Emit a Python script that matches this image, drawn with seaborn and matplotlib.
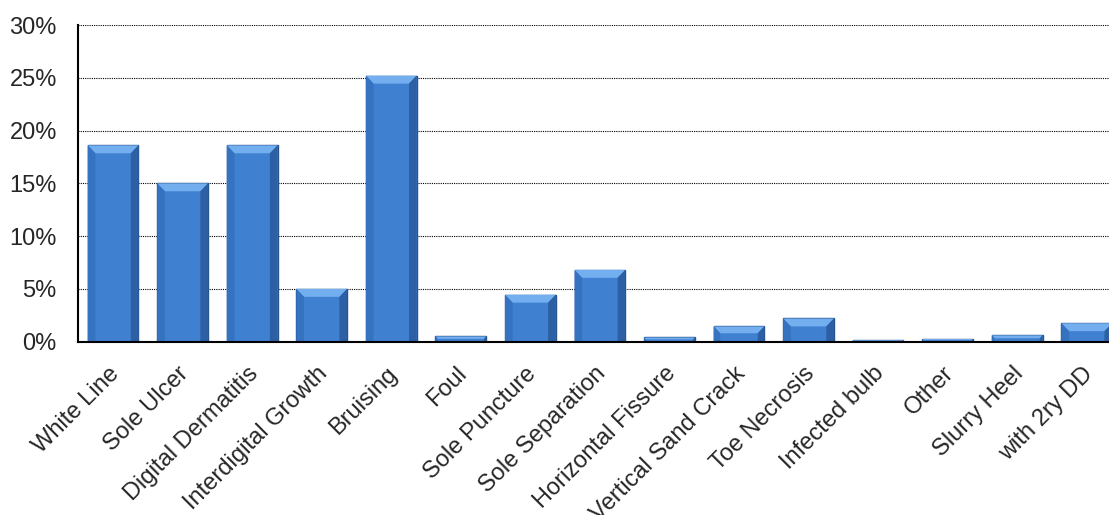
import matplotlib
matplotlib.use('Agg')
import matplotlib.pyplot as plt
import matplotlib.transforms as mtrans
from matplotlib.patches import Polygon
import numpy as np
import pandas as pd
import seaborn as sns
from matplotlib.ticker import PercentFormatter

# data
categories = ['White Line', 'Sole Ulcer', 'Digital Dermatitis', 'Interdigital Growth',
              'Bruising', 'Foul', 'Sole Puncture', 'Sole Separation', 'Horizontal Fissure',
              'Vertical Sand Crack', 'Toe Necrosis', 'Infected bulb', 'Other',
              'Slurry Heel', 'with 2ry DD']
share = [18.6, 15.0, 18.6, 5.0, 25.2, 0.5, 4.45, 6.8, 0.4, 1.45, 2.2, 0.15, 0.25, 0.6, 1.75]
y_ticks = [0, 5, 10, 15, 20, 25, 30]

df = pd.DataFrame({'lesion': categories, 'pct': share})

sns.set_style("white")
plt.rcParams['font.family'] = ['Liberation Sans', 'DejaVu Sans']

fig = plt.figure(figsize=(11.09, 5.15), dpi=100)
ax = fig.add_axes([78.3 / 1109, (515 - 341.7) / 515, 1 - 78.3 / 1109, (341.7 - 25) / 515])

sns.barplot(x='lesion', y='pct', data=df, color='#3F80D0', width=0.73,
            edgecolor='#26558F', linewidth=1.0, saturation=1, ax=ax, zorder=3)

# bevel look: light top facet and darker side facets
bx, by = 0.11, 0.75
for p in list(ax.patches):
    x0, w, h = p.get_x(), p.get_width(), p.get_height()
    d = min(by, h * 0.45)
    dx = bx * d / by
    x1 = x0 + w
    ax.add_patch(Polygon([[x0, h], [x1, h], [x1 - dx, h - d], [x0 + dx, h - d]],
                         closed=True, fc='#73AEEF', ec='none', zorder=4))
    ax.add_patch(Polygon([[x0, 0], [x0, h], [x0 + dx, h - d], [x0 + dx, 0]],
                         closed=True, fc='#3572C0', ec='none', zorder=4))
    ax.add_patch(Polygon([[x1, 0], [x1, h], [x1 - dx, h - d], [x1 - dx, 0]],
                         closed=True, fc='#2C5FA3', ec='none', zorder=4))

ax.set_ylim(0, 30)
ax.set_xlim(-0.5, 14.32)
ax.set_yticks(y_ticks)
ax.yaxis.set_major_formatter(PercentFormatter(decimals=0))
ax.grid(axis='y', color='black', linestyle=(0, (1, 1)), linewidth=0.8, zorder=0)
ax.set_axisbelow(True)

for s in ['top', 'right']:
    ax.spines[s].set_visible(False)
for s in ['left', 'bottom']:
    ax.spines[s].set_color('black')
    ax.spines[s].set_linewidth(1.5)
    ax.spines[s].set_zorder(5)

ax.tick_params(axis='y', length=0, pad=15.5, labelsize=17)
ax.tick_params(axis='x', length=0, pad=15, labelsize=17)
shift = mtrans.ScaledTranslation(-5 / 100, 0, fig.dpi_scale_trans)
for lab in ax.get_xticklabels():
    lab.set_rotation(45)
    lab.set_ha('right')
    lab.set_rotation_mode('anchor')
    lab.set_transform(lab.get_transform() + shift)
ax.set_xlabel('')
ax.set_ylabel('')

plt.savefig('out.png', dpi=100)
